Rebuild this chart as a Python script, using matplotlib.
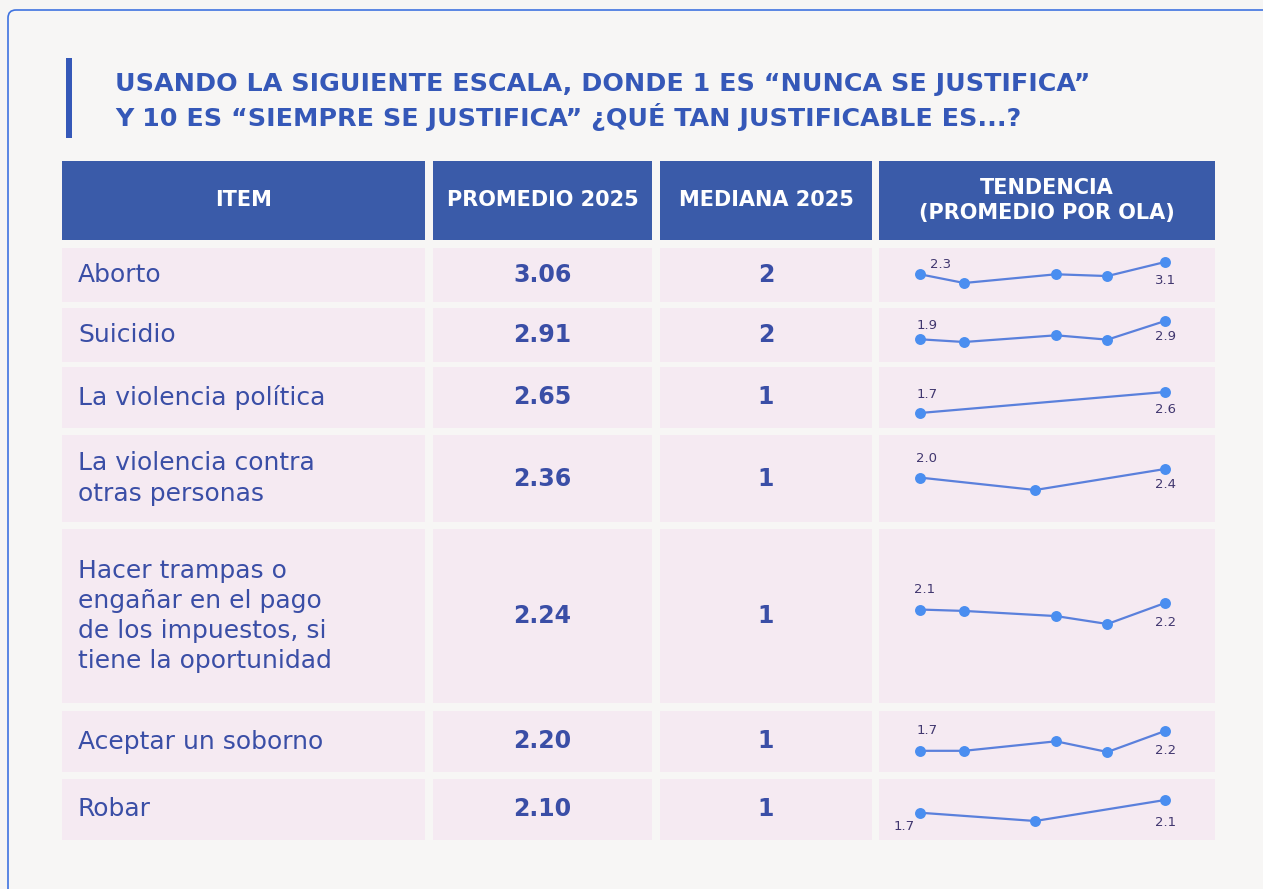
import matplotlib
matplotlib.use("Agg")
import matplotlib.pyplot as plt
from matplotlib.patches import Rectangle, FancyBboxPatch

plt.rcParams['font.family'] = ['DejaVu Sans']

# ---- data ----
title_lines = ["USANDO LA SIGUIENTE ESCALA, DONDE 1 ES “NUNCA SE JUSTIFICA”",
               "Y 10 ES “SIEMPRE SE JUSTIFICA” ¿QUÉ TAN JUSTIFICABLE ES...?"]
headers = ["ITEM", "PROMEDIO 2025", "MEDIANA 2025", "TENDENCIA\n(PROMEDIO POR OLA)"]
items = ["Aborto", "Suicidio", "La violencia política",
         "La violencia contra\notras personas",
         "Hacer trampas o\nengañar en el pago\nde los impuestos, si\ntiene la oportunidad",
         "Aceptar un soborno", "Robar"]
promedio = [3.06, 2.91, 2.65, 2.36, 2.24, 2.20, 2.10]
mediana = [2, 2, 1, 1, 1, 1, 1]

# trend per wave (position of each wave on the time axis, 0..1)
ola_x5 = [0, 0.18, 0.555, 0.765, 1.0]
ola_x3 = [0, 0.47, 1.0]
ola_x2 = [0, 1.0]
trend_x = [ola_x5, ola_x5, ola_x2, ola_x3, ola_x5, ola_x5, ola_x3]
trend_y = [
    [2.3, 1.76, 2.3, 2.19, 3.06],
    [1.9, 1.75, 2.12, 1.88, 2.91],
    [1.7, 2.65],
    [2.0, 1.48, 2.36],
    [2.1, 2.07, 1.96, 1.79, 2.24],
    [1.7, 1.7, 1.94, 1.67, 2.2],
    [1.7, 1.44, 2.1],
]

# ---- layout (pixels) ----
W, H = 1263, 889
col_x = [(62, 425), (433, 652), (660, 872), (879, 1215)]
header_y = (161, 240)
rows_y = [(248, 302), (308, 362), (367, 428), (435, 522), (529, 703), (711, 772), (779, 840)]
spark_top = [262, 321, 392, 469, 603, 731, 800]
spark_h = 21
first_off = [(21, 10), (7, 14), (7, 19), (7, 19), (5, 20), (7, 20), (-16, -14)]
last_off = [(1, -19), (1, -16), (1, -17), (1, -16), (1, -20), (1, -19), (1, -22)]

BG = "#f6f5f4"
HEAD = "#3a5ba9"
CELL = "#f5eaf2"
TXT = "#3a4ea6"
TITLE = "#3558b8"
LINE = "#5a80dc"
DOT = "#4a8ef0"
LAB = "#41376f"

fig = plt.figure(figsize=(W / 100, H / 100), dpi=100)
fig.patch.set_facecolor(BG)
bg = fig.add_axes([0, 0, 1, 1])
bg.set_xlim(0, W)
bg.set_ylim(H, 0)
bg.axis('off')

card = FancyBboxPatch((8, 10), W + 40, H + 40, boxstyle="round,pad=0,rounding_size=8",
                      fc="#f7f6f5", ec="#3f73e0", lw=1.2)
bg.add_patch(card)

# title
bg.add_patch(Rectangle((66, 58), 6, 80, fc=TITLE, ec='none'))
for i, line in enumerate(title_lines):
    bg.text(115, 84 + i * 33, line, color=TITLE, fontsize=18.3, fontweight='bold',
            va='center', ha='left')

# header
for (x0, x1), h in zip(col_x, headers):
    bg.add_patch(Rectangle((x0, header_y[0]), x1 - x0, header_y[1] - header_y[0],
                           fc=HEAD, ec='none'))
    bg.text((x0 + x1) / 2, (header_y[0] + header_y[1]) / 2, h, color='white',
            fontsize=15, fontweight='bold', ha='center', va='center', linespacing=1.35)

# rows
for i, (y0, y1) in enumerate(rows_y):
    yc = (y0 + y1) / 2
    for x0, x1 in col_x:
        bg.add_patch(Rectangle((x0, y0), x1 - x0, y1 - y0, fc=CELL, ec='none'))
    bg.text(78, yc, items[i], color=TXT, fontsize=18, ha='left', va='center',
            linespacing=1.33)
    bg.text(sum(col_x[1]) / 2, yc, f"{promedio[i]:.2f}", color=TXT, fontsize=17,
            fontweight='bold', ha='center', va='center')
    bg.text(sum(col_x[2]) / 2, yc, str(mediana[i]), color=TXT, fontsize=17,
            fontweight='bold', ha='center', va='center')

    # sparkline
    top = spark_top[i]
    ax = fig.add_axes([920 / W, 1 - (top + spark_h) / H, 245 / W, spark_h / H])
    ax.axis('off')
    xs, ys = trend_x[i], trend_y[i]
    ax.set_xlim(0, 1)
    ax.set_ylim(min(ys), max(ys))
    ax.plot(xs, ys, color=LINE, lw=1.6, clip_on=False, zorder=2)
    ax.scatter(xs, ys, s=62, color=DOT, clip_on=False, zorder=3, linewidths=0)
    ax.annotate(f"{ys[0]:.1f}", (xs[0], ys[0]), xytext=first_off[i],
                textcoords='offset pixels', ha='center', va='center',
                fontsize=9.5, color=LAB, annotation_clip=False)
    ax.annotate(f"{ys[-1]:.1f}", (xs[-1], ys[-1]), xytext=last_off[i],
                textcoords='offset pixels', ha='center', va='center',
                fontsize=9.5, color=LAB, annotation_clip=False)

fig.savefig("out.png", dpi=100, facecolor=BG)
